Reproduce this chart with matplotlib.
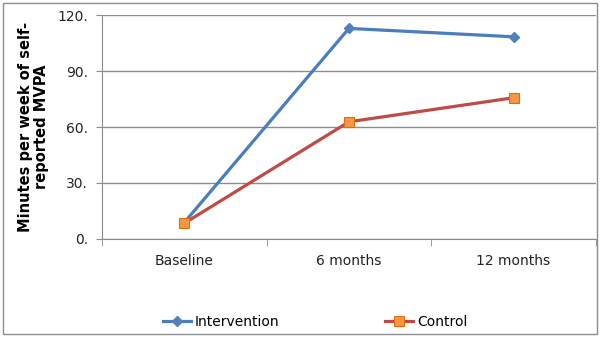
import matplotlib.pyplot as plt
from matplotlib.patches import Rectangle

categories = ["Baseline", "6 months", "12 months"]
intervention = [8.8, 112.9, 108.4]
control = [8.4, 62.8, 75.7]
y_ticks = [0, 30, 60, 90, 120]
y_tick_labels = ["0.", "30.", "60.", "90.", "120."]

fig = plt.figure(figsize=(6, 3.37), dpi=100)
ax = fig.add_axes([0.17, 0.291, 0.823, 0.664])

x = list(range(len(categories)))
ax.plot(x, intervention, color="#4A7EBB", lw=2.3, marker="D", ms=5.5,
        mfc="#4F81BD", mec="#4F81BD", label="Intervention", zorder=3)
ax.plot(x, control, color="#BE4B48", lw=2.3, marker="s", ms=7,
        mfc="#F79646", mec="#E46C0A", mew=0.8, label="Control", zorder=3)

ax.set_xlim(-0.5, 2.5)
ax.set_ylim(0, 120)
ax.set_yticks(y_ticks)
ax.set_yticklabels(y_tick_labels)
ax.set_xticks(x)
ax.set_xticklabels(categories)
ax.set_xticks([-0.5, 0.5, 1.5, 2.5], minor=True)
ax.tick_params(axis="x", which="major", length=0, pad=11, labelsize=10, colors="#222222")
ax.tick_params(axis="x", which="minor", length=5, color="#8c8c8c")
ax.tick_params(axis="y", length=4, pad=6, labelsize=10, color="#8c8c8c", labelcolor="#222222")

ax.grid(axis="y", color="#8c8c8c", lw=1)
ax.set_axisbelow(True)
for side in ["top", "right"]:
    ax.spines[side].set_visible(False)
for side in ["left", "bottom"]:
    ax.spines[side].set_color("#8c8c8c")

ax.set_ylabel("Minutes per week of self-\nreported MVPA", fontsize=10.5,
              fontweight="bold", labelpad=6, linespacing=1.05)

fig.legend(loc="center", bbox_to_anchor=(0.525, 0.045), ncol=2, frameon=False,
           fontsize=10, handlelength=2.0, handletextpad=0.3, columnspacing=7.6)

fig.patches.append(Rectangle((0.005, 0.01), 0.99, 0.98, transform=fig.transFigure,
                             fill=False, ec="#8c8c8c", lw=1))

fig.savefig("out.png", dpi=100)
